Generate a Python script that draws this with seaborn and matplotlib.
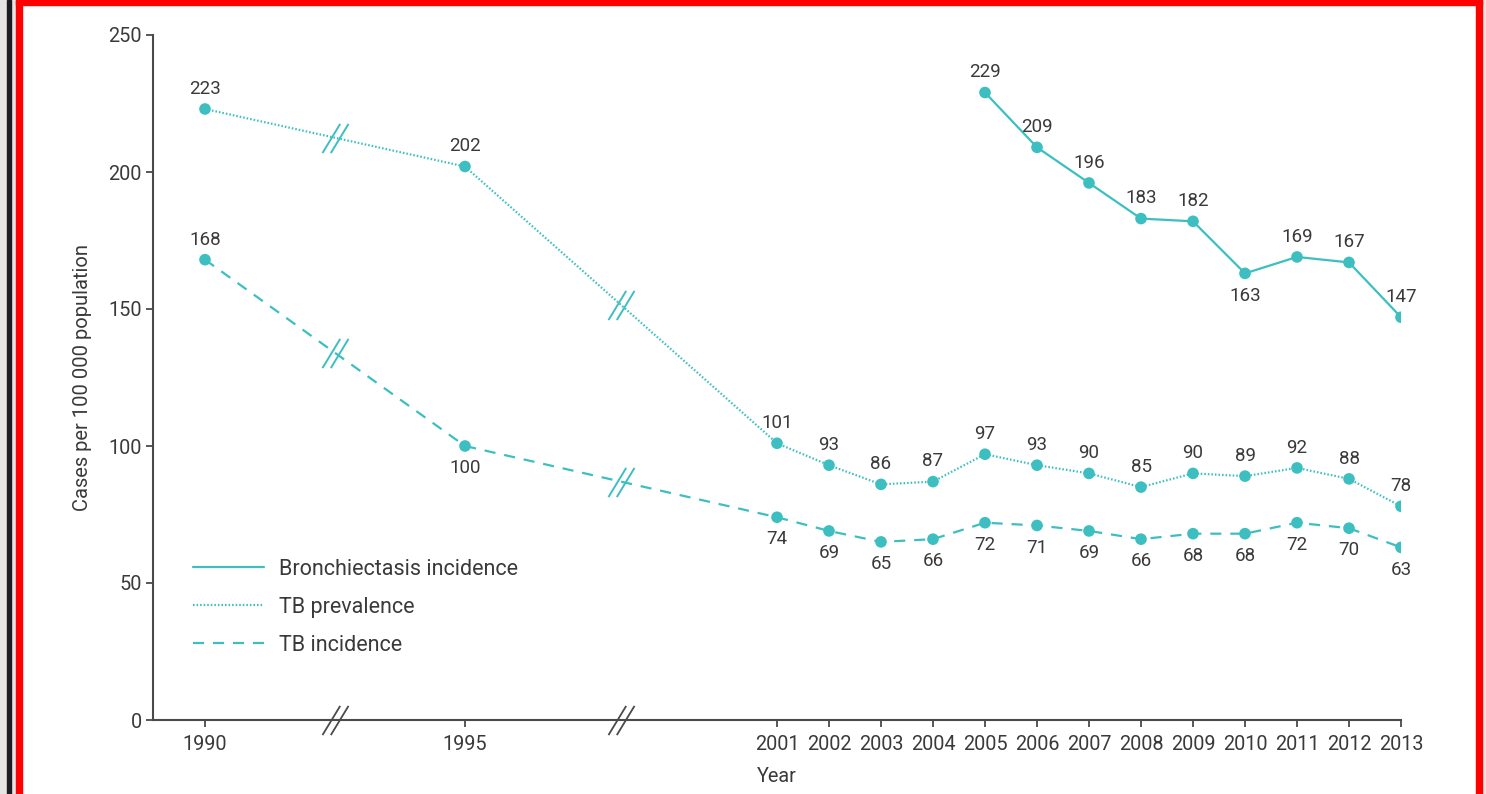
import numpy as np
import pandas as pd
import matplotlib
matplotlib.use("Agg")
import matplotlib.pyplot as plt
from matplotlib.path import Path
from matplotlib.patches import Rectangle
import seaborn as sns

# ---- data -------------------------------------------------------------
series_names = ["Bronchiectasis incidence", "TB prevalence", "TB incidence"]

years_tb = [1990, 1995, 2001, 2002, 2003, 2004, 2005, 2006, 2007,
            2008, 2009, 2010, 2011, 2012, 2013]
tb_prevalence = [223, 202, 101, 93, 86, 87, 97, 93, 90, 85, 90, 89, 92, 88, 78]
tb_incidence = [168, 100, 74, 69, 65, 66, 72, 71, 69, 66, 68, 68, 72, 70, 63]

years_bronch = [2005, 2006, 2007, 2008, 2009, 2010, 2011, 2012, 2013]
bronch_incidence = [229, 209, 196, 183, 182, 163, 169, 167, 147]

# years whose value label sits under the point
labels_below = {
    "Bronchiectasis incidence": [2010],
    "TB prevalence": [],
    "TB incidence": [1995, 2001, 2002, 2003, 2004, 2005, 2006, 2007,
                     2008, 2009, 2010, 2011, 2012, 2013],
}

x_tick_years = [1990, 1995, 2001, 2002, 2003, 2004, 2005, 2006, 2007,
                2008, 2009, 2010, 2011, 2012, 2013]
y_ticks = [0, 50, 100, 150, 200, 250]
break_years = [1992.5, 1998]

# ---- tidy frame -------------------------------------------------------
df = pd.concat([
    pd.DataFrame({"year": years_bronch, "cases": bronch_incidence,
                  "series": series_names[0]}),
    pd.DataFrame({"year": years_tb, "cases": tb_prevalence,
                  "series": series_names[1]}),
    pd.DataFrame({"year": years_tb, "cases": tb_incidence,
                  "series": series_names[2]}),
], ignore_index=True)

# ---- style ------------------------------------------------------------
sns.set_style("ticks")
plt.rcParams["font.family"] = ["Roboto", "DejaVu Sans"]
TEAL = "#3dbfc1"
INK = "#3a3a3a"
AXIS = "#4a4a4a"
LW = 1.6

W, H = 1486, 794
fig = plt.figure(figsize=(W / 100, H / 100), dpi=100)
fig.patch.set_facecolor("white")
ax = fig.add_axes([153 / W, 1 - 720 / H, (1401 - 153) / W, (720 - 35) / H])

dashes = {
    "Bronchiectasis incidence": "",
    "TB prevalence": (0.7, 0.9),
    "TB incidence": (5, 4),
}
sns.lineplot(data=df, x="year", y="cases", style="series",
             style_order=series_names, dashes=dashes, color=TEAL,
             linewidth=LW, errorbar=None, ax=ax, zorder=2)
sns.scatterplot(data=df, x="year", y="cases", color=TEAL, s=70,
                edgecolor="none", legend=False, ax=ax, zorder=3)

# value labels
for name in series_names:
    sub = df[df["series"] == name]
    for yr, val in zip(sub["year"], sub["cases"]):
        below = yr in labels_below[name]
        ax.annotate(f"{val}", (yr, val),
                    xytext=(0, -16 if below else 14.5), textcoords="offset points",
                    ha="center", va="center", fontsize=13.5, color=INK)

# axis-break marks ("//")
brk = Path([(-12.5, -14), (4.5, 14), (-4.5, -14), (12.5, 14)],
           [Path.MOVETO, Path.LINETO, Path.MOVETO, Path.LINETO])
ax.plot(break_years, [0] * len(break_years), ls="none", marker=brk, ms=21,
        mec=AXIS, mew=1.3, clip_on=False, zorder=6)
for vals in (tb_prevalence, tb_incidence):
    yb = np.interp(break_years, years_tb, vals)
    ax.plot(break_years, yb, ls="none", marker=brk, ms=21,
            mec=TEAL, mew=1.4, zorder=4)

# axes
ax.set_xlim(1989, 2013)
ax.set_ylim(0, 250)
ax.set_xticks(x_tick_years)
ax.set_xticklabels([str(y) for y in x_tick_years])
ax.set_yticks(y_ticks)
for side in ("top", "right"):
    ax.spines[side].set_visible(False)
for side in ("left", "bottom"):
    ax.spines[side].set_color(AXIS)
    ax.spines[side].set_linewidth(1.5)
    ax.spines[side].set_zorder(5)
ax.tick_params(direction="out", length=5, width=1.3, color=AXIS,
               labelsize=14.3, labelcolor=INK)
ax.tick_params(axis="x", pad=6)
ax.tick_params(axis="y", pad=3)
ax.set_xlabel("Year", fontsize=14.3, color=INK, labelpad=9)
ax.set_ylabel("Cases per 100 000 population", fontsize=14.5, color=INK,
              labelpad=12)

# legend (line styles only)
handles, labels = ax.get_legend_handles_labels()
pairs = [(h, l) for h, l in zip(handles, labels) if l in series_names]
leg = ax.legend([p[0] for p in pairs], [p[1] for p in pairs],
                loc="upper left", bbox_to_anchor=(193 / W, 1 - 559 / H),
                bbox_transform=fig.transFigure, frameon=False,
                fontsize=15.5, handlelength=3.3, handletextpad=0.7,
                labelspacing=0.78, borderpad=0, borderaxespad=0)
for line in leg.get_lines():
    line.set_linewidth(LW)
    line.set_color(TEAL)
for txt in leg.get_texts():
    txt.set_color(INK)

# surrounding frame
def px_rect(x0, y0, w, h, color):
    fig.patches.append(Rectangle((x0 / W, 1 - (y0 + h) / H), w / W, h / H,
                                 transform=fig.transFigure, color=color,
                                 zorder=10))

px_rect(0, 0, 16, H, "#e4e6e4")
px_rect(7, 0, 4, H, "#1c1c24")
px_rect(1482, 0, 4, H, "#e4e6e4")
px_rect(16, 0, 6, H, "#ff0000")
px_rect(1476, 0, 6, H, "#ff0000")
px_rect(16, 0, 1466, 5, "#ff0000")

fig.savefig("out.png", dpi=100)
